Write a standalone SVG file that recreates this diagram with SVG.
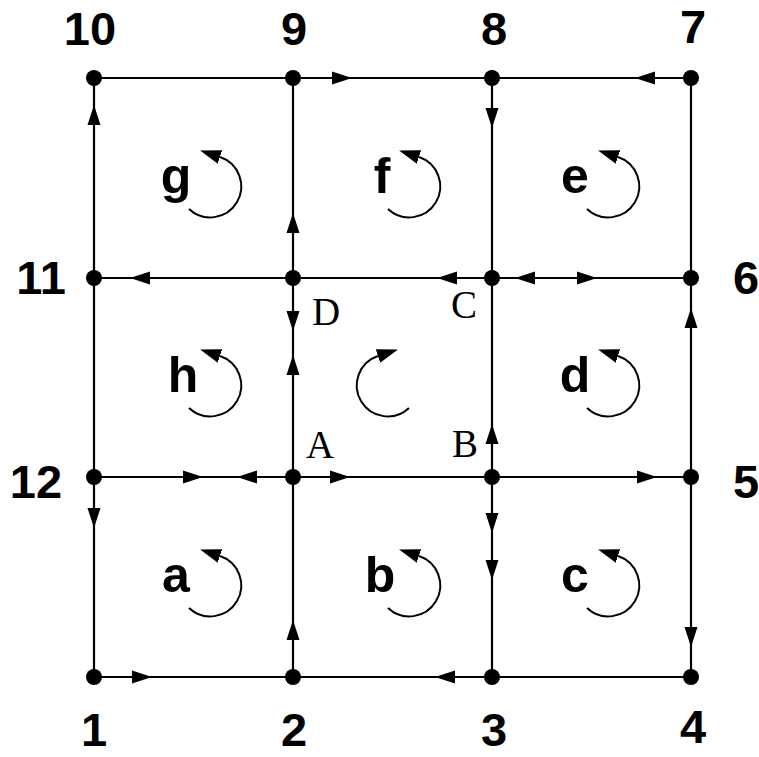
<svg xmlns="http://www.w3.org/2000/svg" xmlns:xlink="http://www.w3.org/1999/xlink" width="759" height="757" viewBox="0 0 759 757">
<style>
.edge{stroke:#000;stroke-width:2.2;fill:none}
.dot{fill:#000}
.num{font-family:"Liberation Sans",Arial,sans-serif;font-weight:bold;font-size:47px;fill:#000;text-anchor:middle}
.face{font-family:"Liberation Sans",Arial,sans-serif;font-weight:bold;font-size:50px;fill:#000;text-anchor:middle}
.pt{font-family:"Liberation Serif","Times New Roman",serif;font-size:39px;fill:#000}
.rot{stroke:#000;stroke-width:2;fill:none;marker-end:url(#rh)}
</style>
<defs>
<path id="ah" d="M0,0 L-20,-6.5 L-20,6.5 Z" fill="#000"/>
<marker id="rh" markerUnits="userSpaceOnUse" markerWidth="22" markerHeight="16" refX="0" refY="7" orient="auto" viewBox="0 0 22 14">
<path d="M0,0 L21,7 L0,14 Z" fill="#000"/>
</marker>
</defs>
<rect width="759" height="757" fill="#fff"/>
<g id="connectors">
<path class="edge" d="M94,78H691M94,278H691M94,477H691M94,677H691M94,78V677M293,78V677M492,78V677M691,78V677"/>
<use xlink:href="#ah" transform="translate(352,78)"/>
<use xlink:href="#ah" transform="translate(635,78) rotate(180)"/>
<use xlink:href="#ah" transform="translate(94,105) rotate(-90)"/>
<use xlink:href="#ah" transform="translate(492,128) rotate(90)"/>
<use xlink:href="#ah" transform="translate(293,213) rotate(-90)"/>
<use xlink:href="#ah" transform="translate(130,278) rotate(180)"/>
<use xlink:href="#ah" transform="translate(437,278) rotate(180)"/>
<use xlink:href="#ah" transform="translate(515,278) rotate(180)"/>
<use xlink:href="#ah" transform="translate(597,278)"/>
<use xlink:href="#ah" transform="translate(293,331) rotate(90)"/>
<use xlink:href="#ah" transform="translate(293,355) rotate(-90)"/>
<use xlink:href="#ah" transform="translate(492,424) rotate(-90)"/>
<use xlink:href="#ah" transform="translate(691,308) rotate(-90)"/>
<use xlink:href="#ah" transform="translate(203,477)"/>
<use xlink:href="#ah" transform="translate(237,477) rotate(180)"/>
<use xlink:href="#ah" transform="translate(350,477)"/>
<use xlink:href="#ah" transform="translate(657,477)"/>
<use xlink:href="#ah" transform="translate(94,528) rotate(90)"/>
<use xlink:href="#ah" transform="translate(492,533) rotate(90)"/>
<use xlink:href="#ah" transform="translate(492,580) rotate(90)"/>
<use xlink:href="#ah" transform="translate(293,620) rotate(-90)"/>
<use xlink:href="#ah" transform="translate(691,647) rotate(90)"/>
<use xlink:href="#ah" transform="translate(152,677)"/>
<use xlink:href="#ah" transform="translate(435,677) rotate(180)"/>
</g>
<g id="n1"><circle class="dot" cx="94" cy="677" r="8"/><text class="num" x="94" y="746">1</text></g>
<g id="n2"><circle class="dot" cx="293" cy="677" r="8"/><text class="num" x="294" y="746">2</text></g>
<g id="n3"><circle class="dot" cx="492" cy="677" r="8"/><text class="num" x="494" y="746">3</text></g>
<g id="n4"><circle class="dot" cx="691" cy="677" r="8"/><text class="num" x="693" y="743">4</text></g>
<g id="n5"><circle class="dot" cx="691" cy="477" r="8"/><text class="num" x="746" y="498">5</text></g>
<g id="n6"><circle class="dot" cx="691" cy="278" r="8"/><text class="num" x="746" y="294">6</text></g>
<g id="n7"><circle class="dot" cx="691" cy="78" r="8"/><text class="num" x="693" y="43">7</text></g>
<g id="n8"><circle class="dot" cx="492" cy="78" r="8"/><text class="num" x="494" y="45">8</text></g>
<g id="n9"><circle class="dot" cx="293" cy="78" r="8"/><text class="num" x="294" y="45">9</text></g>
<g id="n10"><circle class="dot" cx="94" cy="78" r="8"/><text class="num" x="90" y="45">10</text></g>
<g id="n11"><circle class="dot" cx="94" cy="278" r="8"/><text class="num" x="41" y="294">11</text></g>
<g id="n12"><circle class="dot" cx="94" cy="477" r="8"/><text class="num" x="36" y="498">12</text></g>
<g id="nD"><circle class="dot" cx="293" cy="278" r="8"/><text class="pt" x="312" y="325">D</text></g>
<g id="nC"><circle class="dot" cx="492" cy="278" r="8"/><text class="pt" x="451" y="318">C</text></g>
<g id="nA"><circle class="dot" cx="293" cy="477" r="8"/><text class="pt" x="306" y="458">A</text></g>
<g id="nB"><circle class="dot" cx="492" cy="477" r="8"/><text class="pt" x="452" y="457">B</text></g>
<g id="face-g"><text class="face" x="176" y="193">g</text><path class="rot" d="M189,209 A31,31 0 1 0 220,157"/></g>
<g id="face-f"><text class="face" x="382" y="193">f</text><path class="rot" d="M388,209 A31,31 0 1 0 419,157"/></g>
<g id="face-e"><text class="face" x="575" y="193">e</text><path class="rot" d="M587,209 A31,31 0 1 0 618,157"/></g>
<g id="face-h"><text class="face" x="183" y="392">h</text><path class="rot" d="M189,408 A31,31 0 1 0 220,356"/></g>
<g id="face-center"><path class="rot" d="M409,408 A31,31 0 1 1 378,356"/></g>
<g id="face-d"><text class="face" x="575" y="392">d</text><path class="rot" d="M587,408 A31,31 0 1 0 618,356"/></g>
<g id="face-a"><text class="face" x="176" y="592">a</text><path class="rot" d="M189,608 A31,31 0 1 0 220,556"/></g>
<g id="face-b"><text class="face" x="380" y="592">b</text><path class="rot" d="M388,608 A31,31 0 1 0 419,556"/></g>
<g id="face-c"><text class="face" x="575" y="592">c</text><path class="rot" d="M587,608 A31,31 0 1 0 618,556"/></g>
</svg>
